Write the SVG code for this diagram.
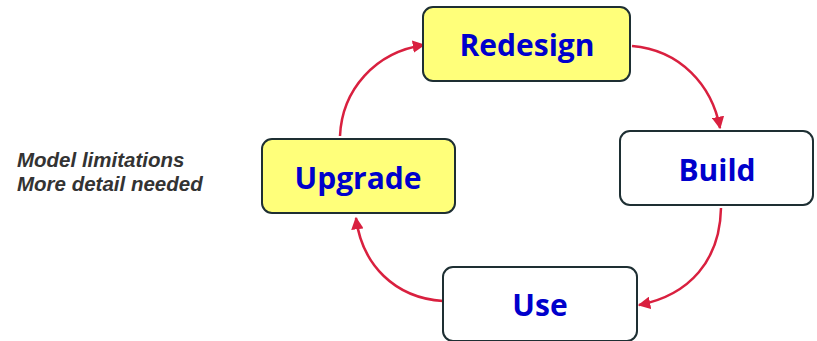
<svg xmlns="http://www.w3.org/2000/svg" width="817" height="341" viewBox="0 0 817 341">
<style>
.box{stroke:#1e2f33;stroke-width:2}
.y{fill:#ffff7a}
.w{fill:#ffffff}
.lbl{font-family:"Open Sans","Liberation Sans",sans-serif;font-weight:bold;font-size:30px;fill:#0000cc;text-anchor:middle}
.note{font-family:"Liberation Sans",Arial,sans-serif;font-weight:bold;font-style:italic;font-size:20.5px;fill:#333333}
.arr{fill:none;stroke:#d9203f;stroke-width:2.5;marker-end:url(#ah)}
</style>
<defs>
<marker id="ah" viewBox="0 0 10 10" refX="9" refY="5" markerWidth="5" markerHeight="5" orient="auto" markerUnits="strokeWidth">
<path d="M0,0 L10,5 L0,10 z" fill="#d9203f"/>
</marker>
</defs>
<rect width="817" height="341" fill="#ffffff"/>
<g id="connectors">
<path class="arr" d="M340,136 C342,90 375,52 424,45"/>
<path class="arr" d="M632,46 C680,50 712,85 720,128"/>
<path class="arr" d="M721,208 C720,260 690,295 639,305"/>
<path class="arr" d="M443,301 C395,298 362,265 356,218"/>
</g>
<g id="redesign">
<rect class="box y" x="423" y="7" width="207" height="74" rx="10"/>
<text class="lbl" x="527" y="56">Redesign</text>
</g>
<g id="build">
<rect class="box w" x="620" y="131" width="193" height="74" rx="10"/>
<text class="lbl" x="717" y="181">Build</text>
</g>
<g id="use">
<rect class="box w" x="443" y="267" width="194" height="74" rx="10"/>
<text class="lbl" x="540" y="316">Use</text>
</g>
<g id="upgrade">
<rect class="box y" x="262" y="139" width="193" height="74" rx="10"/>
<text class="lbl" x="358" y="189">Upgrade</text>
</g>
<g id="note">
<text class="note" x="17" y="167">Model limitations</text>
<text class="note" x="17" y="191">More detail needed</text>
</g>
</svg>
